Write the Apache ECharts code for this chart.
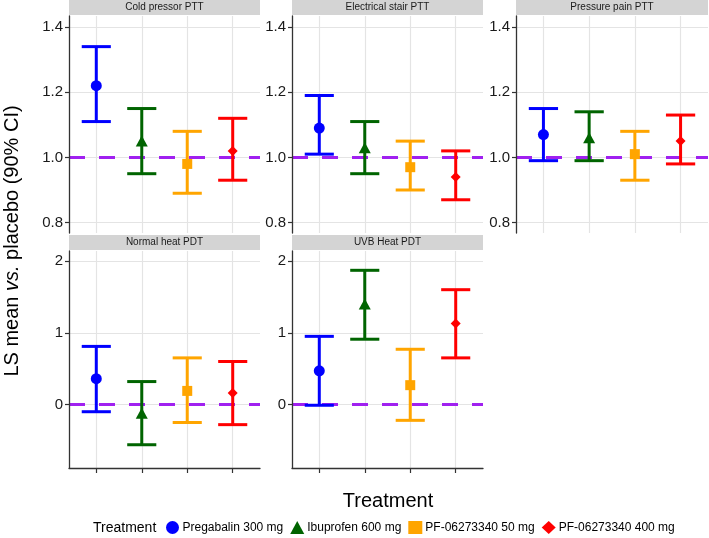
<!DOCTYPE html>
<html><head><meta charset="utf-8">
<script src="https://cdn.jsdelivr.net/npm/echarts@6/dist/echarts.min.js"></script>
<style>html,body{margin:0;padding:0;background:#fff}#c{width:709px;height:538px}</style>
</head><body><div id="c"></div>
<script>
// ---------------- data ----------------
const panels = ['Cold pressor PTT', 'Electrical stair PTT', 'Pressure pain PTT', 'Normal heat PDT', 'UVB Heat PDT'];
const treatments = ['Pregabalin 300 mg', 'Ibuprofen 600 mg', 'PF-06273340 50 mg', 'PF-06273340 400 mg'];
const treatmentPos = [0, 1, 2, 3];
const lsMean = [
  [1.22, 1.05, 0.98, 1.02],
  [1.09, 1.03, 0.97, 0.94],
  [1.07, 1.06, 1.01, 1.05],
  [0.36, -0.12, 0.19, 0.16],
  [0.47, 1.40, 0.27, 1.13]
];
const ciLower = [
  [1.11, 0.95, 0.89, 0.93],
  [1.01, 0.95, 0.90, 0.87],
  [0.99, 0.99, 0.93, 0.98],
  [-0.10, -0.56, -0.25, -0.28],
  [-0.01, 0.91, -0.22, 0.65]
];
const ciUpper = [
  [1.34, 1.15, 1.08, 1.12],
  [1.19, 1.11, 1.05, 1.02],
  [1.15, 1.14, 1.08, 1.13],
  [0.81, 0.32, 0.65, 0.60],
  [0.95, 1.87, 0.77, 1.60]
];
const refLine = [1, 1, 1, 0, 0];
const yTicksTop = [0.8, 1.0, 1.2, 1.4];
const yTicksBottom = [0, 1, 2];

// ---------------- styling / layout ----------------
const FONT = 'Liberation Sans, Arial, sans-serif';
const colors = ['#0000ff', '#006400', '#ffa500', '#ff0000'];
const symbols = ['circle', 'triangle', 'rect', 'diamond'];
const symbolSizes = [11, [12, 11], 10, 10];
const CAP = 0.32;
const layout = [
  {left: 69,  top: 16,  width: 191, height: 217, yMin: 0.768, yMax: 1.434, ticks: yTicksTop, dec: 1, xLine: false},
  {left: 292, top: 16,  width: 191, height: 217, yMin: 0.768, yMax: 1.434, ticks: yTicksTop, dec: 1, xLine: false},
  {left: 516, top: 16,  width: 192, height: 217, yMin: 0.768, yMax: 1.434, ticks: yTicksTop, dec: 1, xLine: false},
  {left: 69,  top: 251, width: 191, height: 217, yMin: -0.884, yMax: 2.139, ticks: yTicksBottom, dec: 0, xLine: true},
  {left: 292, top: 251, width: 191, height: 217, yMin: -0.884, yMax: 2.139, ticks: yTicksBottom, dec: 0, xLine: true}
];

const grid = [], xAxis = [], yAxis = [], series = [], graphic = [];
layout.forEach((L, p) => {
  grid.push({left: L.left, top: L.top, width: L.width, height: L.height, containLabel: false});
  xAxis.push({
    type: 'value', gridIndex: p, min: -0.6, max: 3.6, z: 6,
    axisLine: {show: L.xLine, onZero: false, lineStyle: {color: '#333', width: 1.3}},
    axisTick: {show: L.xLine, customValues: treatmentPos, length: 5, lineStyle: {color: '#333', width: 1.2}},
    axisLabel: {show: false},
    splitLine: {show: false}
  });
  yAxis.push({
    type: 'value', gridIndex: p, min: L.yMin, max: L.yMax, z: 6,
    axisLine: {show: true, onZero: false, lineStyle: {color: '#333', width: 1.3}},
    axisTick: {show: true, customValues: L.ticks, length: 4, lineStyle: {color: '#333', width: 1.2}},
    axisLabel: {customValues: L.ticks, formatter: v => Number(v).toFixed(L.dec), fontSize: 15, color: '#1a1a1a', fontFamily: FONT, margin: 6},
    splitLine: {show: false}
  });
  // grid lines
  series.push({
    type: 'line', xAxisIndex: p, yAxisIndex: p, data: [], z: 1, silent: true,
    markLine: {
      z: 1, silent: true, symbol: 'none', label: {show: false}, animation: false,
      lineStyle: {color: '#e4e4e4', width: 1.2, type: 'solid'},
      data: treatmentPos.map(v => ({xAxis: v})).concat(L.ticks.map(v => ({yAxis: v})))
    }
  });
  // reference line
  series.push({
    type: 'line', xAxisIndex: p, yAxisIndex: p, data: [], z: 2, silent: true,
    markLine: {
      z: 2, silent: true, symbol: 'none', label: {show: false}, animation: false,
      lineStyle: {color: '#a020f0', width: 3, type: [16, 14]},
      data: [{yAxis: refLine[p]}]
    }
  });
  treatments.forEach((t, j) => {
    const col = colors[j];
    series.push({
      type: 'custom', name: t, xAxisIndex: p, yAxisIndex: p, z: 3,
      data: [[treatmentPos[j], ciLower[p][j], ciUpper[p][j]]],
      encode: {x: 0, y: [1, 2]},
      renderItem: (params, api) => {
        const x = api.value(0), lo = api.value(1), hi = api.value(2);
        const a = api.coord([x, lo]), b = api.coord([x, hi]);
        const l1 = api.coord([x - CAP, lo]), r1 = api.coord([x + CAP, lo]);
        const l2 = api.coord([x - CAP, hi]), r2 = api.coord([x + CAP, hi]);
        const st = {stroke: col, lineWidth: 3, fill: null};
        return {type: 'group', children: [
          {type: 'line', shape: {x1: a[0], y1: a[1], x2: b[0], y2: b[1]}, style: st},
          {type: 'line', shape: {x1: l1[0], y1: l1[1], x2: r1[0], y2: r1[1]}, style: st},
          {type: 'line', shape: {x1: l2[0], y1: l2[1], x2: r2[0], y2: r2[1]}, style: st}
        ]};
      }
    });
    series.push({
      type: 'scatter', name: t, xAxisIndex: p, yAxisIndex: p, z: 4,
      symbol: symbols[j], symbolSize: symbolSizes[j],
      itemStyle: {color: col, opacity: 1},
      data: [[treatmentPos[j], lsMean[p][j]]]
    });
  });
  // strip
  graphic.push({
    type: 'rect', shape: {x: L.left, y: L.top - 16, width: L.width, height: 15},
    style: {fill: '#d4d4d4'}, silent: true
  });
  graphic.push({
    type: 'text', x: L.left + L.width / 2, y: L.top - 8.5, silent: true,
    style: {text: panels[p], fontSize: 10, fontFamily: FONT, fill: '#1a1a1a', align: 'center', verticalAlign: 'middle'}
  });
});

graphic.push({
  type: 'text', x: 12, y: 241, rotation: Math.PI / 2, silent: true,
  style: {
    text: '{a|LS mean }{i|vs.}{a| placebo (90% CI)}',
    rich: {
      a: {fontSize: 20, fontFamily: FONT, fill: '#000'},
      i: {fontSize: 20, fontFamily: FONT, fontStyle: 'italic', fill: '#000'}
    },
    align: 'center', verticalAlign: 'middle'
  }
});
graphic.push({
  type: 'text', x: 388, y: 501, silent: true,
  style: {text: 'Treatment', fontSize: 20, fontFamily: FONT, fill: '#000', align: 'center', verticalAlign: 'middle'}
});
graphic.push({
  type: 'text', x: 93, y: 528, silent: true,
  style: {text: 'Treatment', fontSize: 14, fontFamily: FONT, fill: '#000', align: 'left', verticalAlign: 'middle'}
});

const chart = echarts.init(document.getElementById('c'), null, {renderer: 'canvas'});
chart.setOption({
  animation: false,
  backgroundColor: '#fff',
  textStyle: {fontFamily: FONT},
  grid, xAxis, yAxis, series, graphic,
  legend: {
    left: 166, top: 521, orient: 'horizontal', padding: 0,
    itemWidth: 14, itemHeight: 13, itemGap: 7,
    textStyle: {fontSize: 12, color: '#000', fontFamily: FONT, padding: [0, 0, 0, -2]},
    data: treatments.map((t, j) => ({name: t, icon: symbols[j], itemStyle: {color: colors[j]}}))
  }
});
</script>
</body></html>
